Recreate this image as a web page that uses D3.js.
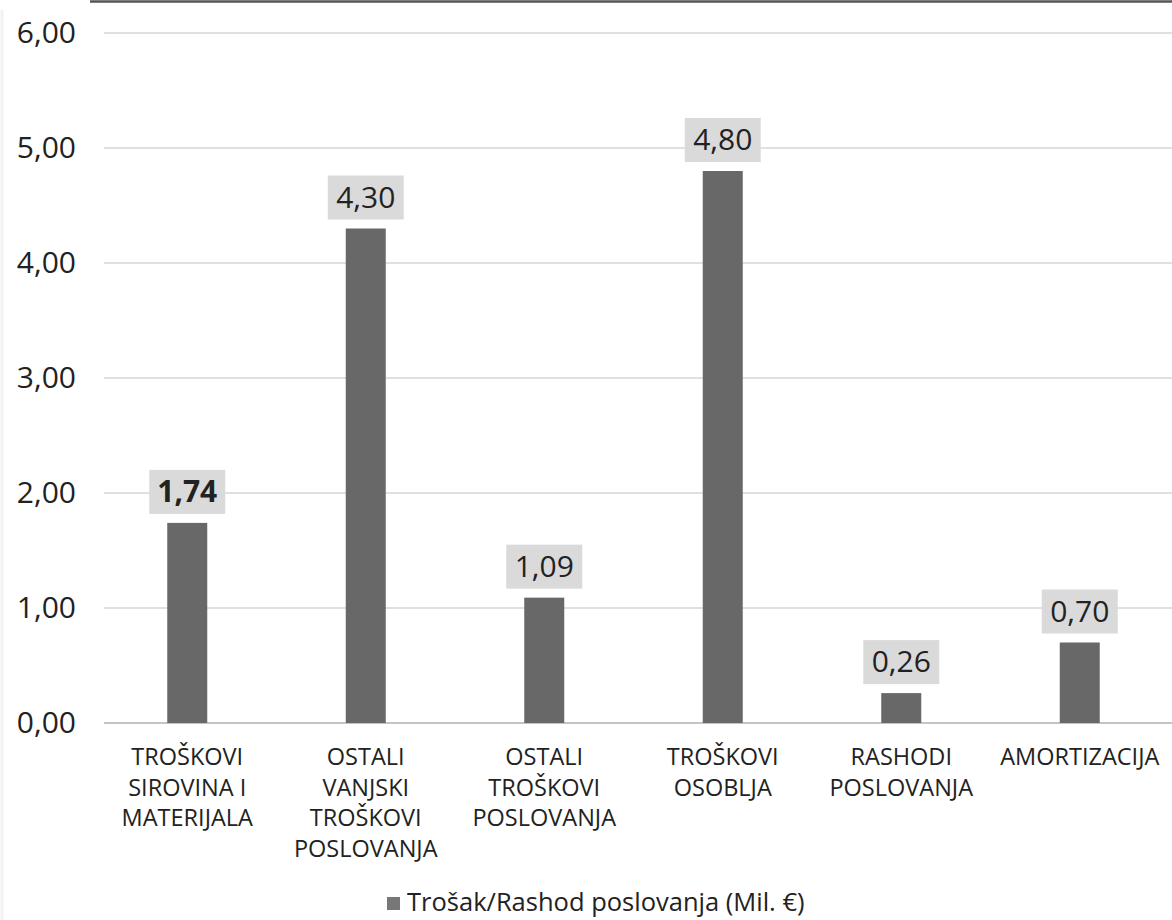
<!DOCTYPE html>
<html><head><meta charset="utf-8">
<script src="https://cdn.jsdelivr.net/npm/d3@7/dist/d3.min.js"></script>
<style>
html,body{margin:0;padding:0;background:#fff;}
svg{display:block;font-family:"Open Sans",sans-serif;}
</style></head>
<body><svg id="c" width="1172" height="920"></svg>
<script>
const categories = [
  ["TROŠKOVI","SIROVINA I","MATERIJALA"],
  ["OSTALI","VANJSKI","TROŠKOVI","POSLOVANJA"],
  ["OSTALI","TROŠKOVI","POSLOVANJA"],
  ["TROŠKOVI","OSOBLJA"],
  ["RASHODI","POSLOVANJA"],
  ["AMORTIZACIJA"]
];
const values = [1.74, 4.30, 1.09, 4.80, 0.26, 0.70];
const valueLabels = ["1,74","4,30","1,09","4,80","0,26","0,70"];
const yTicks = [0,1,2,3,4,5,6];
const seriesName = "Trošak/Rashod poslovanja (Mil. €)";

const svg = d3.select("#c");
const fmt = d => d3.format(".2f")(d).replace(".", ",");
const x = d3.scalePoint().domain(d3.range(values.length)).range([98,1169]).padding(0.5);
const y = d3.scaleLinear().domain([0,6]).range([723,33]);
const barW = 40;

// scan-like top border
svg.append("line").attr("x1",90).attr("x2",1172).attr("y1",1.5).attr("y2",1.5)
  .attr("stroke","#555").attr("stroke-width",2.5);
svg.append("line").attr("x1",2).attr("x2",2).attr("y1",10).attr("y2",920)
  .attr("stroke","#f2f2f2").attr("stroke-width",3);

// gridlines
svg.append("g").selectAll("line").data(yTicks).join("line")
  .attr("x1",104).attr("x2",1172)
  .attr("y1",d=>y(d)).attr("y2",d=>y(d))
  .attr("stroke",d=>d===0?"#c4c4c4":"#d6d6d6").attr("stroke-width",d=>d===0?2:1.5);

// y axis labels
const yAxis = d3.axisLeft(y).tickValues(yTicks).tickFormat(fmt).tickSize(0).tickPadding(0);
const gy = svg.append("g").attr("transform","translate(76,0)").call(yAxis);
gy.select(".domain").remove();
gy.selectAll("text").attr("font-size",30).attr("fill","#222").attr("font-family","Open Sans").attr("dy","0.3em");

// bars
svg.append("g").selectAll("rect").data(values).join("rect")
  .attr("x",(d,i)=>x(i)-barW/2).attr("width",barW)
  .attr("y",d=>y(d)).attr("height",d=>y(0)-y(d))
  .attr("fill","#686868");

// value labels
const lab = svg.append("g").selectAll("g").data(values).join("g")
  .attr("transform",(d,i)=>`translate(${x(i)},${y(d)-9})`);
lab.append("rect").attr("x",-38).attr("y",-44).attr("width",76).attr("height",44).attr("fill","#dadada");
lab.append("text").attr("text-anchor","middle").attr("y",-12)
  .attr("font-size",30).attr("fill","#222")
  .attr("font-weight",(d,i)=>i===0?"bold":"normal")
  .text((d,i)=>valueLabels[i]);

// category labels
const cat = svg.append("g").selectAll("text").data(categories).join("text")
  .attr("text-anchor","middle").attr("font-size",23.5).attr("fill","#222")
  .attr("transform",(d,i)=>`translate(${x(i)},765)`);
cat.selectAll("tspan").data(d=>d).join("tspan")
  .attr("x",0).attr("dy",(d,j)=>j===0?0:30.7).text(d=>d);

// legend
const lg = svg.append("g").attr("transform","translate(387,911)");
lg.append("rect").attr("x",0).attr("y",-14).attr("width",13).attr("height",13).attr("fill","#777");
lg.append("text").attr("x",20).attr("y",0).attr("font-size",25.5).attr("fill","#222").text(seriesName);
</script></body></html>
